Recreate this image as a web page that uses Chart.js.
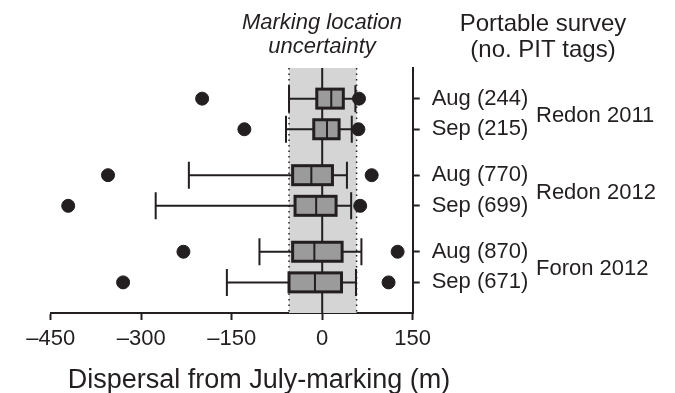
<!DOCTYPE html>
<html lang="en">
<head>
<meta charset="UTF-8" />
<title>Dispersal from July-marking</title>
<script src="https://cdn.jsdelivr.net/npm/chart.js@4"></script>
<style>
  body { margin: 0; background: #fff; }
  canvas { display: block; }
</style>
</head>
<body>
<canvas id="chart" width="675" height="393"></canvas>
<script>
  // survey rows (top to bottom) and where they sit on the y scale
  const rowLabels = ['Aug (244)', 'Sep (215)', 'Aug (770)', 'Sep (699)', 'Aug (870)', 'Sep (671)'];
  const rowPos = [1, 3, 6, 8, 11, 13];
  const groupNames = ['Redon 2011', 'Redon 2012', 'Foron 2012'];
  const groupPos = [2, 7, 12];

  // box plot values, metres
  const whiskerLow = [-55, -60, -221, -276, -104, -158];
  const q1 = [-9, -14, -49, -45, -49, -55];
  const median = [15, 8, -18, -10, -13, -12];
  const q3 = [35, 28, 17, 23, 33, 32];
  const whiskerHigh = [55, 49, 41, 48, 65, 56];
  const outLow = [-199, -129, -355, -421, -230, -330];
  const outHigh = [61, 60, 82, 63, 125, 110];

  const xTicks = [-450, -300, -150, 0, 150];
  const bandRange = [-55, 57];

  const ink = '#231f20';
  const font = '"Liberation Sans", Arial, sans-serif';

  const outliers = [];
  rowPos.forEach((p, i) => {
    outliers.push({ x: outLow[i], y: p });
    outliers.push({ x: outHigh[i], y: p });
  });

  const bandPlugin = {
    id: 'band',
    beforeDatasetsDraw(chart) {
      const { ctx, chartArea: a, scales: { x, y } } = chart;
      const x0 = x.getPixelForValue(bandRange[0]);
      const x1 = x.getPixelForValue(bandRange[1]);
      ctx.save();
      ctx.fillStyle = '#d5d5d6';
      ctx.fillRect(x0, a.top, x1 - x0, a.bottom - a.top);
      ctx.strokeStyle = ink;
      ctx.lineWidth = 1.5;
      ctx.setLineDash([1.5, 4]);
      [x0, x1].forEach(px => {
        ctx.beginPath();
        ctx.moveTo(px, a.top);
        ctx.lineTo(px, a.bottom);
        ctx.stroke();
      });
      ctx.setLineDash([]);
      // zero line
      const z = x.getPixelForValue(0);
      ctx.lineWidth = 2;
      ctx.beginPath();
      ctx.moveTo(z, a.top);
      ctx.lineTo(z, a.bottom);
      ctx.stroke();

      // whiskers and boxes
      const boxH = 19, capH = 27;
      rowPos.forEach((p, i) => {
        const py = y.getPixelForValue(p);
        const wl = x.getPixelForValue(whiskerLow[i]);
        const wh = x.getPixelForValue(whiskerHigh[i]);
        const b0 = x.getPixelForValue(q1[i]);
        const b1 = x.getPixelForValue(q3[i]);
        const m = x.getPixelForValue(median[i]);
        ctx.strokeStyle = ink;
        ctx.lineWidth = 2;
        ctx.beginPath();
        ctx.moveTo(wl, py); ctx.lineTo(b0, py);
        ctx.moveTo(b1, py); ctx.lineTo(wh, py);
        ctx.moveTo(wl, py - capH / 2); ctx.lineTo(wl, py + capH / 2);
        ctx.moveTo(wh, py - capH / 2); ctx.lineTo(wh, py + capH / 2);
        ctx.stroke();
        ctx.fillStyle = '#9b9b9c';
        ctx.fillRect(b0, py - boxH / 2, b1 - b0, boxH);
        ctx.lineWidth = 3;
        ctx.strokeRect(b0, py - boxH / 2, b1 - b0, boxH);
        ctx.lineWidth = 2;
        ctx.beginPath();
        ctx.moveTo(m, py - boxH / 2);
        ctx.lineTo(m, py + boxH / 2);
        ctx.stroke();
      });
      ctx.restore();
    },
    afterDraw(chart) {
      const { ctx, scales: { y } } = chart;
      ctx.save();
      ctx.fillStyle = ink;
      ctx.textAlign = 'left';
      ctx.textBaseline = 'middle';
      ctx.font = '22px ' + font;
      groupPos.forEach((p, i) => {
        ctx.fillText(groupNames[i], 536, y.getPixelForValue(p) + 2);
      });
      ctx.textAlign = 'center';
      ctx.textBaseline = 'alphabetic';
      ctx.font = 'italic 22px ' + font;
      ctx.fillText('Marking location', 322, 29);
      ctx.fillText('uncertainty', 322, 53);
      ctx.font = '24px ' + font;
      ctx.fillText('Portable survey', 543, 31);
      ctx.fillText('(no. PIT tags)', 543, 57);
      ctx.font = '27px ' + font;
      ctx.fillText('Dispersal from July-marking (m)', 259, 388);
      ctx.restore();
    }
  };

  new Chart(document.getElementById('chart'), {
    type: 'scatter',
    data: {
      datasets: [{
        data: outliers,
        backgroundColor: ink,
        borderColor: ink,
        pointRadius: 6.5,
        pointHoverRadius: 6.5
      }]
    },
    options: {
      responsive: false,
      animation: false,
      events: [],
      layout: { padding: { left: 50.7, top: 68, right: 0, bottom: 0 } },
      plugins: { legend: { display: false }, tooltip: { enabled: false } },
      scales: {
        x: {
          type: 'linear',
          position: 'bottom',
          min: xTicks[0],
          max: xTicks[xTicks.length - 1],
          afterBuildTicks: s => { s.ticks = xTicks.map(v => ({ value: v })); },
          afterFit: s => { s.height = 80; },
          border: { color: ink, width: 2 },
          grid: { drawOnChartArea: false, tickLength: 7, tickColor: ink, tickWidth: 2 },
          ticks: {
            color: ink,
            font: { family: font, size: 22 },
            padding: 6,
            maxRotation: 0,
            callback: v => String(v).replace('-', '\u2013')
          }
        },
        y: {
          type: 'linear',
          position: 'right',
          reverse: true,
          min: -1,
          max: 15,
          afterBuildTicks: s => { s.ticks = rowPos.map(v => ({ value: v })); },
          afterFit: s => { s.width = 675 - 412.7; },
          border: { color: ink, width: 2 },
          grid: { drawOnChartArea: false, tickLength: 7, tickColor: ink, tickWidth: 2 },
          ticks: {
            color: ink,
            font: { family: font, size: 22 },
            padding: 12,
            callback: v => rowLabels[rowPos.indexOf(v)]
          }
        }
      }
    },
    plugins: [bandPlugin]
  });
</script>
</body>
</html>
